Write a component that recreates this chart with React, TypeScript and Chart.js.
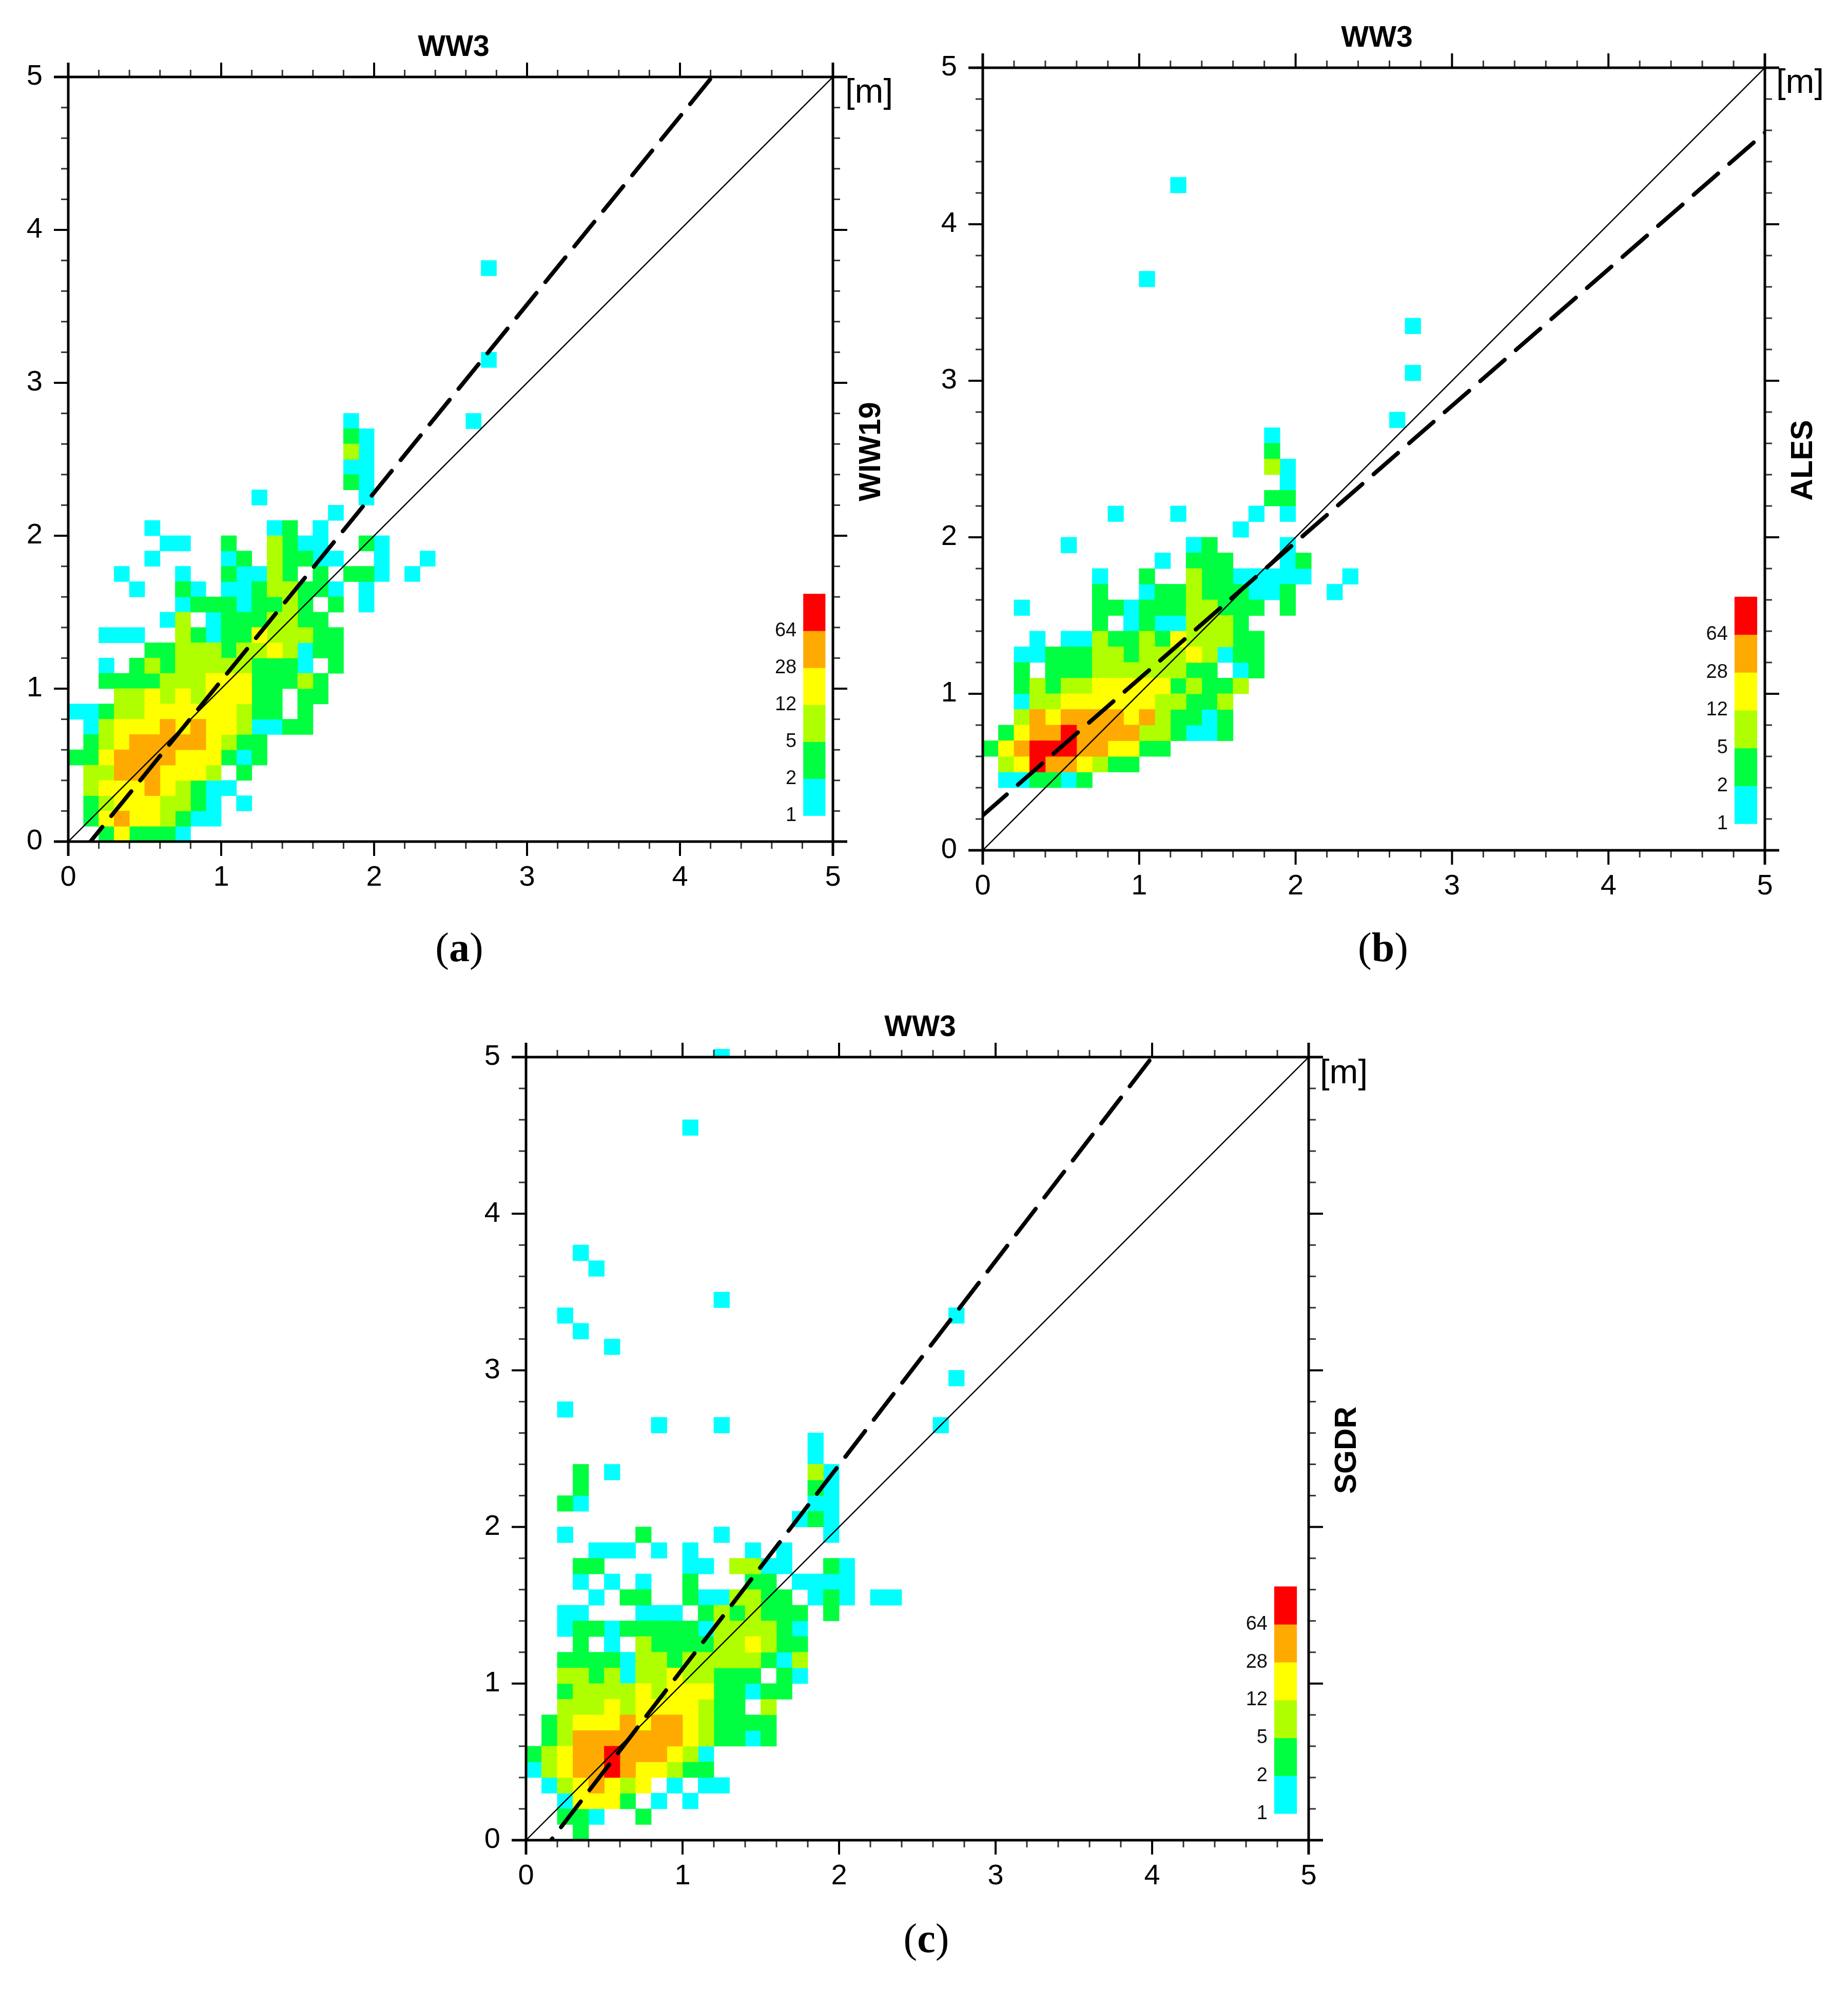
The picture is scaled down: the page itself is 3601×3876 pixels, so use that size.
import React, { useEffect, useRef } from "react";
import { Chart, registerables } from "chart.js";

Chart.register(...registerables);

// Bin size of the 2D histogram (m) and axis range
const BIN = 0.1;
const AXIS_MAX = 5;
const MAJOR_TICKS = [0, 1, 2, 3, 4, 5];
const MINOR_TICKS = [0.2, 0.4, 0.6, 0.8, 1.2, 1.4, 1.6, 1.8, 2.2, 2.4, 2.6, 2.8, 3.2, 3.4, 3.6, 3.8, 4.2, 4.4, 4.6, 4.8];

// Colour classes: 1=cyan 2=green 3=lime 4=yellow 5=orange 6=red
const CLASS_COLORS = ["#00FFFF", "#00FF40", "#B0FF00", "#FFFF00", "#FFAA00", "#FF0000"];
const CLASS_LABELS = ["1", "2", "5", "12", "28", "64"];

// Each string is one row of bins (row 0 is 0-0.1 m), each char one column; digit = colour class
const rowsA = [
  "..242221",
  ".245443211",
  ".234443321.1",
  ".3444543211",
  ".335554443.2",
  "2245555444212",
  ".234555554322",
  ".134445454431122",
  "11233444444322.2",
  "...33434344422.22",
  "..222233344422232",
  "..1.232333332221.2",
  ".....2233323343122",
  "..111..32122433322",
  "......13.12223322",
  ".......122212232.2.1",
  "....1..21.11233221.1",
  "...1...1..21132.2.221.1",
  ".....1....12.32211..1..1",
  "......11..2..3211..21",
  ".....1.......12.1",
  ".................1",
  "............1......1",
  "..................21",
  "..................11",
  "..................31",
  "..................21",
  "..................1",
];
const outliersA = [[26, 27], [27, 31], [27, 37]];
const fitA = [[0.145, 0], [4.21, 5]];

const rowsB = [
  "",
  "",
  "",
  "",
  ".112212",
  ".346554322",
  "245666554422",
  ".245565555332112",
  "..35455554532212",
  "..13344444433223",
  "..232334444423223",
  "..2.22233333322.12",
  "..1122233233343122",
  "...1.1132232433322",
  ".......2.12113332",
  "..1....22122233222.2",
  ".......2..1223222112..1",
  ".......1..2..32211111..1",
  "...........1.222...12",
  ".....1.......12....1",
  "................1",
  "........1...1....1.1",
  "..................22",
  "...................1",
  "..................31",
  "..................2",
  "..................1",
];
const outliersB = [[26, 27], [27, 30], [27, 33], [10, 36], [12, 42]];
const fitB = [[0, 0.223], [5, 4.585]];

const rowsC = [
  "...2",
  "..221..2",
  "..14442.1.1",
  ".1345434.1.11",
  "134556544322",
  "234556555431",
  ".235555555432212",
  ".234445455432222",
  "..333434444322.3",
  "..233334344422122",
  "..3323133433222.21",
  "..2222133233333213",
  "...2.1.32222334322",
  "..1221222221333321",
  "..11...111.2323222.2",
  "....1.22..2113322.121.11",
  "...1.1.1..2...22.1111",
  "...22.....11.3311..21",
  "....111.1.1...1.1",
  "..1....2....1......1",
  ".................121",
  "..21..............11",
  "...2..............21",
  "...2.1............31",
  "..................1",
  "..................1",
];
const outliersC = [[2, 27], [8, 26], [12, 26], [26, 26], [27, 29], [5, 31], [3, 32], [2, 33], [27, 33], [12, 34], [4, 36], [3, 37], [10, 45], [12, 50]];
const fitC = [[0.16, 0], [4, 5]];

const identityLine = [[0, 0], [5, 5]];

const FONT = "'Liberation Sans', Arial, sans-serif";

const panels = [
  { rows: rowsA, outliers: outliersA, fit: fitA, dash: [61.7, 27.7], dashOffset: 25, x0: 133, x5: 1623, y5: 150, y0: 1640, topClip: 0,
    yName: "WIW19", titleX: 884, unitDx: 24, unitDy: 32, legendX: 4.806 },
  { rows: rowsB, outliers: outliersB, fit: fitB, dash: [63, 29], dashOffset: 1, x0: 1915, x5: 3439, y5: 132, y0: 1657, topClip: 0,
    yName: "ALES", titleX: 2683, unitDx: 22, unitDy: 31, legendX: 4.806 },
  { rows: rowsC, outliers: outliersC, fit: fitC, dash: [63, 28], dashOffset: 59, x0: 1025, x5: 2550, y5: 2060, y0: 3586, topClip: 16,
    yName: "SGDR", titleX: 1793, unitDx: 22, unitDy: 33, legendX: 4.78 },
];

const captions = [
  { letter: "a", x: 895, y: 1846 },
  { letter: "b", x: 2695, y: 1846 },
  { letter: "c", x: 1805, y: 3777 },
];

// Space around the plot area inside each canvas
const PAD_LEFT = 130;
const PAD_RIGHT = 125;
const PAD_TOP = 130;
const PAD_BOTTOM = 110;

type Panel = (typeof panels)[number];

function cellsOfClass(panel: Panel, cls: number) {
  const out: { x: number; y: number }[] = [];
  panel.rows.forEach((row, j) => {
    for (let i = 0; i < row.length; i++) {
      if (row[i] === String(cls)) out.push({ x: (i + 0.5) * BIN, y: (j + 0.5) * BIN });
    }
  });
  if (cls === 1) panel.outliers.forEach(([i, j]) => out.push({ x: (i + 0.5) * BIN, y: (j + 0.5) * BIN }));
  return out;
}

function decorPlugin(panel: Panel) {
  return {
    id: "decor",
    afterDatasetsDraw(chart: any) {
      const { ctx, scales } = chart;
      const X = scales.x;
      const Y = scales.y;
      const l = X.getPixelForValue(0);
      const r = X.getPixelForValue(AXIS_MAX);
      const b = Y.getPixelForValue(0);
      const t = Y.getPixelForValue(AXIS_MAX);
      ctx.save();
      ctx.strokeStyle = "#000";
      ctx.lineCap = "butt";
      const seg = (x1: number, y1: number, x2: number, y2: number, w: number, c = "#000") => {
        ctx.strokeStyle = c;
        ctx.lineWidth = w;
        ctx.beginPath();
        ctx.moveTo(x1, y1);
        ctx.lineTo(x2, y2);
        ctx.stroke();
      };
      const MAJOR = 28;
      const MINOR = 14;
      MAJOR_TICKS.forEach((v) => {
        const end = v === 0 || v === AXIS_MAX;
        const w = end ? 5 : 4;
        const px = X.getPixelForValue(v);
        const py = Y.getPixelForValue(v);
        seg(px, b, px, b + MAJOR, w);
        seg(px, t, px, t - MAJOR, w);
        seg(l, py, l - MAJOR, py, w);
        seg(r, py, r + MAJOR, py, w);
      });
      MINOR_TICKS.forEach((v) => {
        const px = X.getPixelForValue(v);
        const py = Y.getPixelForValue(v);
        seg(px, b, px, b + MINOR, 3, "#333");
        seg(px, t, px, t - MINOR, 3, "#333");
        seg(l, py, l - MINOR, py, 3, "#333");
        seg(r, py, r + MINOR, py, 3, "#333");
      });
      // frame
      seg(l, b, r, b, 5);
      seg(l, t, r, t, 5);
      seg(l, t, l, b, 5);
      seg(r, t, r, b, 5);

      // colour legend
      const legendW = 0.145;
      const legendBottom = 0.17;
      const legendStep = 0.2417;
      const lx1 = X.getPixelForValue(panel.legendX);
      const lx2 = X.getPixelForValue(panel.legendX + legendW);
      ctx.textAlign = "right";
      ctx.textBaseline = "middle";
      ctx.font = `38px ${FONT}`;
      CLASS_COLORS.forEach((c, i) => {
        const y1 = Y.getPixelForValue(legendBottom + i * legendStep);
        const y2 = Y.getPixelForValue(legendBottom + (i + 1) * legendStep);
        ctx.fillStyle = c;
        ctx.fillRect(lx1, y2, lx2 - lx1, y1 - y2 + 0.5);
        ctx.fillStyle = "#111";
        ctx.fillText(CLASS_LABELS[i], lx1 - 13, y1);
      });

      // texts
      ctx.fillStyle = "#000";
      ctx.textAlign = "center";
      ctx.font = `bold 57px ${FONT}`;
      const canvasLeft = panel.x0 - PAD_LEFT;
      ctx.fillText("WW3", panel.titleX - canvasLeft, t - 57);
      ctx.font = `67px ${FONT}`;
      ctx.textAlign = "left";
      ctx.fillText("[m]", r + panel.unitDx, t + panel.unitDy);
      ctx.save();
      ctx.translate(r + 76, b - 760);
      ctx.rotate(-Math.PI / 2);
      ctx.textAlign = "center";
      ctx.font = `bold 59px ${FONT}`;
      ctx.fillText(panel.yName, 0, 0);
      ctx.restore();
      ctx.restore();
    },
  };
}

function PanelChart({ panel }: { panel: Panel }) {
  const ref = useRef<HTMLCanvasElement | null>(null);
  const width = panel.x5 - panel.x0 + PAD_LEFT + PAD_RIGHT;
  const height = panel.y0 - panel.y5 + PAD_TOP + PAD_BOTTOM;

  useEffect(() => {
    if (!ref.current) return;
    const unit = (panel.x5 - panel.x0) / AXIS_MAX;
    const side = unit * BIN + 0.8;
    const clip = { left: 0, right: 0, bottom: 0, top: panel.topClip };
    const cellSets = CLASS_COLORS.map((color, k) => ({
      label: `class ${CLASS_LABELS[k]}`,
      data: cellsOfClass(panel, k + 1),
      pointStyle: "rect",
      pointRadius: side / Math.SQRT2,
      pointHoverRadius: side / Math.SQRT2,
      pointBorderWidth: 0,
      backgroundColor: color,
      borderColor: color,
      showLine: false,
      order: 10 - k,
      clip,
    }));
    const chart = new Chart(ref.current, {
      type: "scatter",
      data: {
        datasets: [
          ...cellSets,
          {
            label: "1:1",
            data: identityLine.map(([x, y]) => ({ x, y })),
            showLine: true,
            pointRadius: 0,
            borderColor: "#000",
            borderWidth: 2.5,
            order: 1,
          },
          {
            label: "fit",
            data: panel.fit.map(([x, y]) => ({ x, y })),
            showLine: true,
            pointRadius: 0,
            borderColor: "#000",
            borderWidth: 8,
            borderDash: panel.dash,
            borderDashOffset: panel.dashOffset,
            borderCapStyle: "round",
            order: 0,
          },
        ],
      } as any,
      options: {
        responsive: false,
        animation: false,
        devicePixelRatio: 1,
        layout: { padding: { top: PAD_TOP, right: PAD_RIGHT, left: 0, bottom: 0 } },
        plugins: { legend: { display: false }, tooltip: { enabled: false }, title: { display: false } },
        scales: {
          x: {
            type: "linear",
            min: 0,
            max: AXIS_MAX,
            grid: { display: false, drawTicks: false },
            border: { display: false },
            ticks: { stepSize: 1, color: "#000", padding: 37, maxRotation: 0, font: { family: "Liberation Sans", size: 56 } },
            afterFit: (s: any) => { s.height = PAD_BOTTOM; },
          },
          y: {
            type: "linear",
            min: 0,
            max: AXIS_MAX,
            grid: { display: false, drawTicks: false },
            border: { display: false },
            ticks: { stepSize: 1, color: "#000", padding: 50, font: { family: "Liberation Sans", size: 56 } },
            afterFit: (s: any) => { s.width = PAD_LEFT; },
          },
        },
      } as any,
      plugins: [decorPlugin(panel)],
    });
    return () => chart.destroy();
  }, [panel]);

  return (
    <canvas
      ref={ref}
      width={width}
      height={height}
      style={{ position: "absolute", left: panel.x0 - PAD_LEFT, top: panel.y5 - PAD_TOP, width, height }}
    />
  );
}

export default function App() {
  return (
    <div style={{ position: "absolute", left: 0, top: 0, width: 3601, height: 3876, background: "#fff", overflow: "hidden" }}>
      {panels.map((p) => (
        <PanelChart key={p.yName} panel={p} />
      ))}
      {captions.map((c) => (
        <div
          key={c.letter}
          style={{
            position: "absolute",
            left: c.x,
            top: c.y,
            transform: "translate(-50%, -50%)",
            fontFamily: "'Liberation Serif', serif",
            fontSize: 80,
            color: "#000",
            whiteSpace: "nowrap",
          }}
        >
          (<b>{c.letter}</b>)
        </div>
      ))}
    </div>
  );
}
